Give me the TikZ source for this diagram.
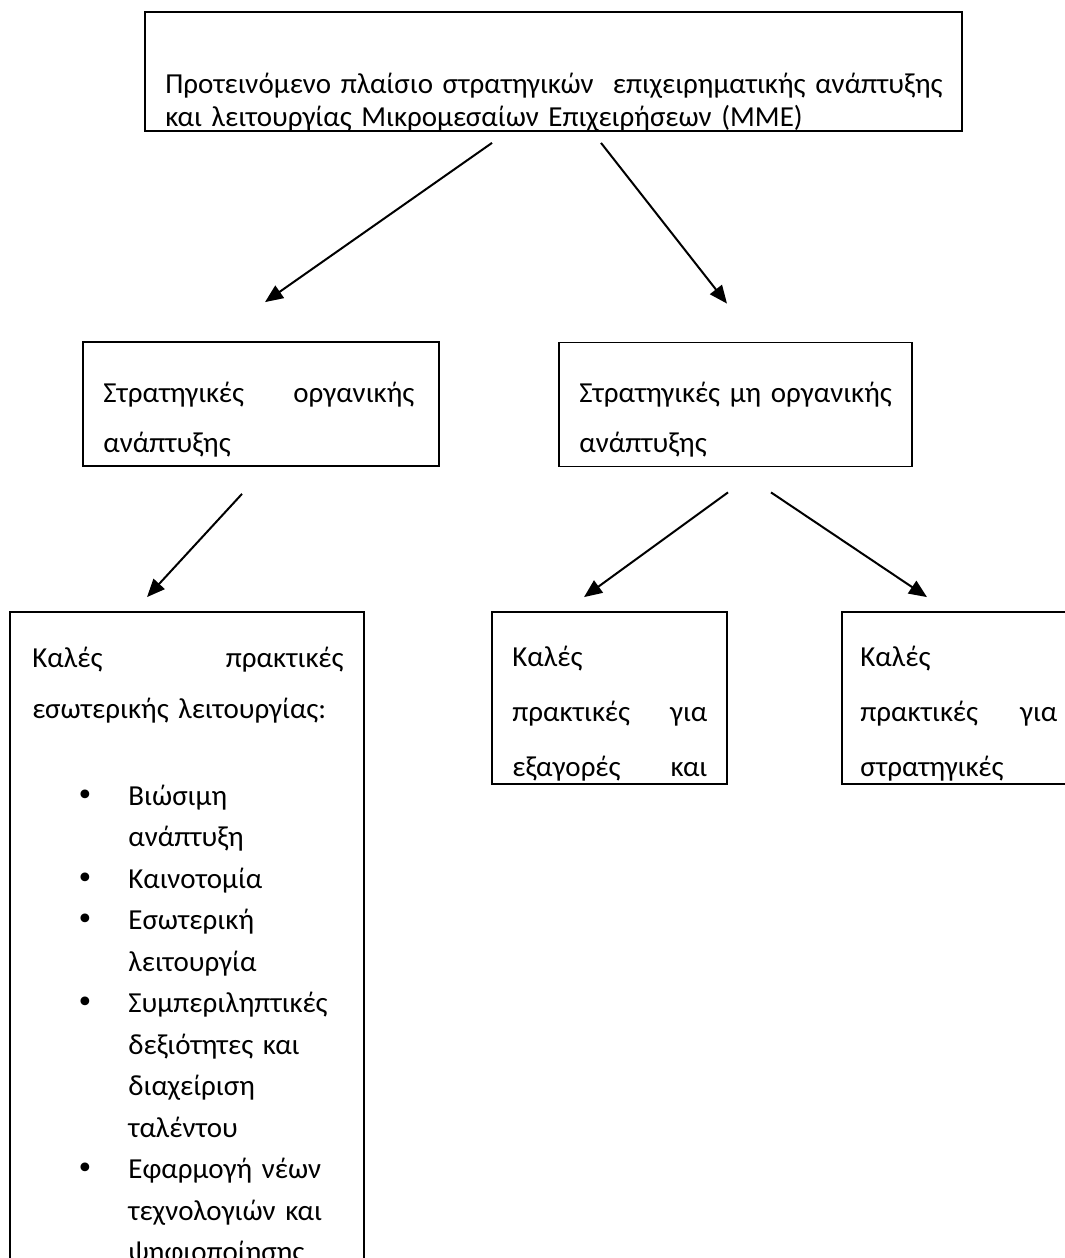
\documentclass[tikz,border=0pt]{standalone}
\usepackage{fontspec}
\setmainfont{Carlito}
\newfontfamily\bltfont{DejaVu Sans}
\usetikzlibrary{arrows.meta,calc}
\newcommand\fs[1]{\fontsize{14.5pt}{#1}\selectfont}
\newcommand\itm{\leavevmode\llap{{\bltfont\fontsize{15pt}{15pt}\selectfont •}\hspace{17.3pt}}}
\tikzset{
  box/.style={rectangle,draw=black,line width=0.9pt,inner sep=0pt},
  txt/.style={inner sep=0pt,anchor=base west,align=left,text width=#1},
  arr/.style={-{Triangle[length=9pt,width=7.5pt]},line width=1pt,color=black}
}

\begin{document}
\begin{tikzpicture}[x=0.5pt,y=-0.5pt]
    \useasboundingbox (0,0) rectangle (1065,1258);
    \clip (0,0) rectangle (1065,1258);

    % Top box
    \node[box,minimum width=408.5pt,minimum height=59.5pt] (top) at (553.5,71.5) {};
    \begin{scope}
      \clip (top.north west) rectangle (top.south east);
      \node[txt=390pt,font=\fs{16.5pt}] (toptxt) at (165,93)
        {Προτεινόμενο πλαίσιο στρατηγικών\ \ επιχειρηματικής ανάπτυξης\\
         και λειτουργίας Μικρομεσαίων Επιχειρήσεων (ΜΜΕ)};
    \end{scope}

    % Middle boxes
    \node[box,minimum width=178pt,minimum height=62pt] (midl) at (261,404) {};
    \node[box,minimum width=176.5pt,minimum height=62pt] (midr) at (735.5,404.5) {};
    \node[txt=155.5pt,font=\fs{25pt}] (midltxt) at (103,402)
      {Στρατηγικές\hfill οργανικής\\ανάπτυξης};
    \node[txt=156.5pt,font=\fs{25pt}] (midrtxt) at (579,402)
      {Στρατηγικές μη οργανικής\\ανάπτυξης};

    % Bottom left box
    \node[box,minimum width=177pt,minimum height=344pt] (botl) at (187,956) {};
    \begin{scope}
      \clip (botl.north west) rectangle (botl.south east);
      \node[txt=155.5pt,font=\fs{25.5pt}] (botltxt) at (32,667)
        {Καλές\hfill πρακτικές\\εσωτερικής λειτουργίας:};
      \node[txt=118pt,font=\fs{20.75pt}] (list) at (128,805)
        {\itm Βιώσιμη\\ανάπτυξη\\
         \itm Καινοτομία\\
         \itm Εσωτερική\\λειτουργία\\
         \itm Συμπεριληπτικές\\δεξιότητες και\\διαχείριση\\ταλέντου\\
         \itm Εφαρμογή νέων\\τεχνολογιών και\\ψηφιοποίησης};
    \end{scope}

    % Bottom middle and right boxes
    \node[box,minimum width=117.5pt,minimum height=86pt] (botm) at (609.5,698) {};
    \node[box,minimum width=117.5pt,minimum height=86pt] (botr) at (959.5,698) {};
    \begin{scope}
      \clip (botm.north west) rectangle (botm.south east);
      \node[txt=97.5pt,font=\fs{27.5pt}] (botmtxt) at (512,666)
        {Καλές\\πρακτικές\hfill για\\εξαγορές\hfill και};
    \end{scope}
    \begin{scope}
      \clip (botr.north west) rectangle (botr.south east);
      \node[txt=98.5pt,font=\fs{27.5pt}] (botrtxt) at (860,666)
        {Καλές\\πρακτικές\hfill για\\στρατηγικές};
    \end{scope}

    % Arrows
    \draw[arr] ($(top.south)+(-61.5,11)$) -- ($(midl.north)+(4,-39)$);
    \draw[arr] ($(top.south)+(47.5,11)$) -- ($(midr.north)+(-8.5,-38)$);
    \draw[arr] ($(midl.south)+(-19,27)$) -- ($(botl.north)+(-40,-14)$);
    \draw[arr] ($(midr.south)+(-7.5,25)$) -- ($(botm.north)+(-25.5,-14)$);
    \draw[arr] ($(midr.south)+(35.5,25)$) -- ($(botr.north)+(-32.5,-14)$);

\end{tikzpicture}
\end{document}
